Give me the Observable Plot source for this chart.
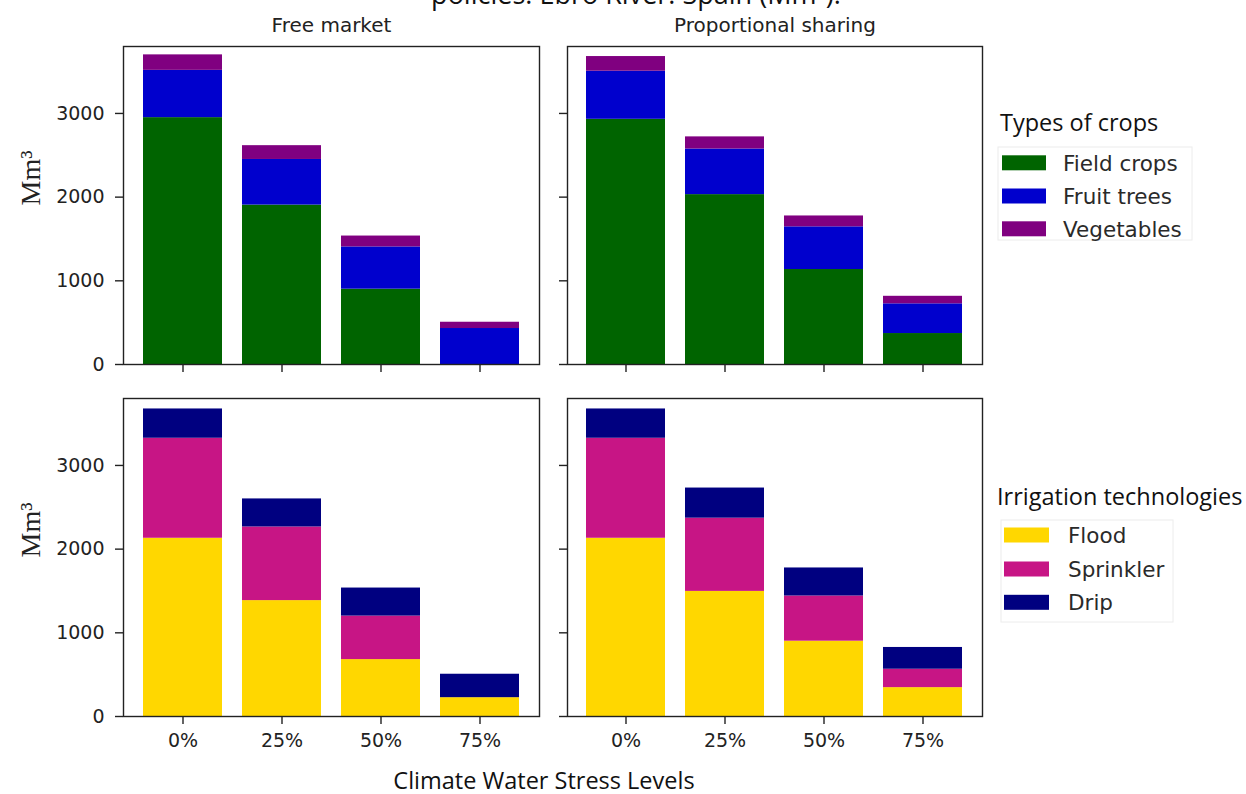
<!DOCTYPE html>
<html>
<head>
<meta charset="utf-8">
<script src="https://cdn.jsdelivr.net/npm/d3@7"></script>
<script src="https://cdn.jsdelivr.net/npm/@observablehq/plot@0.6"></script>
<style>
  html, body { margin: 0; padding: 0; background: #fff; }
  #chart { position: relative; width: 1246px; height: 794px; overflow: hidden; background: #fff; }
  .panel { position: absolute; }
  .panel svg { display: block; }
  .panel g[aria-label="x-axis tick"] path,
  .panel g[aria-label="y-axis tick"] path { stroke-width: 1.4; }
</style>
</head>
<body>
<div id="chart"></div>
<script>
// Climate water stress scenarios (x axis)
const levels = ["0%", "25%", "50%", "75%"];
const policies = ["Free market", "Proportional sharing"];

// Crop types and their colours
const cropTypes = ["Field crops", "Fruit trees", "Vegetables"];
const cropColors = ["#006400", "#0000cd", "#800080"];

// Irrigation technologies and their colours
const irrigationTypes = ["Flood", "Sprinkler", "Drip"];
const irrigationColors = ["#ffd700", "#c71585", "#000080"];

// Water use by crop type, free market (Mm³)
const freeMarketField = [2950, 1905, 900, 0];
const freeMarketFruit = [565, 545, 505, 430];
const freeMarketVegetables = [185, 165, 130, 75];

// Water use by crop type, proportional sharing (Mm³)
const sharingField = [2930, 2030, 1135, 370];
const sharingFruit = [575, 545, 510, 355];
const sharingVegetables = [175, 145, 130, 90];

// Water use by irrigation technology, free market (Mm³)
const freeMarketFlood = [2130, 1385, 680, 225];
const freeMarketSprinkler = [1195, 880, 520, 0];
const freeMarketDrip = [350, 335, 335, 280];

// Water use by irrigation technology, proportional sharing (Mm³)
const sharingFlood = [2130, 1495, 900, 345];
const sharingSprinkler = [1195, 875, 540, 220];
const sharingDrip = [350, 360, 335, 260];

const yTicks = [0, 1000, 2000, 3000];
const yMax = 3800;

function toRows(types, series) {
  const rows = [];
  levels.forEach((level, i) => {
    types.forEach((type, k) => rows.push({level, type, value: series[k][i]}));
  });
  return rows;
}

function panel(opts) {
  const {types, colors, series, title, showY, showX, left, top, width, height,
         marginLeft, marginRight, marginTop, marginBottom} = opts;
  const marks = [
    Plot.barY(toRows(types, series), {x: "level", y: "value", fill: "type"}),
    Plot.frame({stroke: "#222", strokeWidth: 1.4})
  ];
  if (title) {
    marks.push(Plot.text([title], {
      frameAnchor: "top", dy: -21, lineAnchor: "middle",
      fontSize: 20, fill: "#222"
    }));
  }
  if (showY) {
    marks.push(Plot.text(["Mm³"], {
      frameAnchor: "left", dx: -92, rotate: -90, lineAnchor: "middle",
      fontSize: 28, fontFamily: "Liberation Serif, serif", fill: "#222"
    }));
  }
  const svg = Plot.plot({
    width, height, marginLeft, marginRight, marginTop, marginBottom,
    style: {fontFamily: "DejaVu Sans, sans-serif", fontSize: "19px", color: "#222", background: "transparent", overflow: "visible"},
    x: {
      domain: levels, paddingInner: 0.2, paddingOuter: 0.19,
      tickSize: 8, tickPadding: 9, label: null,
      tickFormat: showX ? (d => d) : (() => "")
    },
    y: {
      domain: [0, yMax], ticks: yTicks, tickSize: 8, tickPadding: 11, label: null,
      tickFormat: showY ? (d => String(d)) : (() => "")
    },
    color: {domain: types, range: colors},
    marks
  });
  const div = document.createElement("div");
  div.className = "panel";
  div.style.left = left + "px";
  div.style.top = top + "px";
  div.style.width = width + "px";
  div.style.height = height + "px";
  div.appendChild(svg);
  document.getElementById("chart").appendChild(div);
}

const topRow = {top: 0, height: 385, marginTop: 46, marginBottom: 21};
const bottomRow = {top: 385, height: 409, marginTop: 13, marginBottom: 78};
const leftCol = {left: 0, width: 553, marginLeft: 123, marginRight: 14};
const rightCol = {left: 553, width: 439, marginLeft: 14, marginRight: 10};

panel({...topRow, ...leftCol, types: cropTypes, colors: cropColors,
  series: [freeMarketField, freeMarketFruit, freeMarketVegetables],
  title: policies[0], showY: true, showX: false});
panel({...topRow, ...rightCol, types: cropTypes, colors: cropColors,
  series: [sharingField, sharingFruit, sharingVegetables],
  title: policies[1], showY: false, showX: false});
panel({...bottomRow, ...leftCol, types: irrigationTypes, colors: irrigationColors,
  series: [freeMarketFlood, freeMarketSprinkler, freeMarketDrip],
  title: null, showY: true, showX: true});
panel({...bottomRow, ...rightCol, types: irrigationTypes, colors: irrigationColors,
  series: [sharingFlood, sharingSprinkler, sharingDrip],
  title: null, showY: false, showX: true});

// Shared titles and legends
const overlay = d3.select("#chart").append("svg")
  .attr("width", 1246).attr("height", 794)
  .style("position", "absolute").style("left", "0px").style("top", "0px")
  .style("pointer-events", "none");

const headFont = "'Open Sans', sans-serif";

overlay.append("text")
  .attr("x", 636).attr("y", 4).attr("text-anchor", "middle")
  .attr("font-family", headFont).attr("font-size", 27).attr("fill", "#111")
  .text("policies. Ebro River. Spain (Mm³).");

overlay.append("text")
  .attr("x", 544).attr("y", 789).attr("text-anchor", "middle")
  .attr("font-family", headFont).attr("font-size", 23.5).attr("fill", "#111")
  .text("Climate Water Stress Levels");

function legend({title, titleX, titleY, box, swatchX, swatchW, textX, rows, types, colors}) {
  overlay.append("text")
    .attr("x", titleX).attr("y", titleY)
    .attr("font-family", headFont).attr("font-size", 23.5).attr("fill", "#111")
    .text(title);
  overlay.append("rect")
    .attr("x", box[0]).attr("y", box[1]).attr("width", box[2]).attr("height", box[3])
    .attr("fill", "none").attr("stroke", "#ececec").attr("stroke-width", 1);
  types.forEach((t, i) => {
    overlay.append("rect")
      .attr("x", swatchX).attr("y", rows[i] - 7.5)
      .attr("width", swatchW).attr("height", 15)
      .attr("fill", colors[i]);
    overlay.append("text")
      .attr("x", textX).attr("y", rows[i] + 7.8)
      .attr("font-family", "'DejaVu Sans', sans-serif").attr("font-size", 21.5)
      .attr("fill", "#2a2a2a")
      .text(t);
  });
}

legend({title: "Types of crops", titleX: 1000, titleY: 131,
  box: [998, 147, 194, 93], swatchX: 1002, swatchW: 44, textX: 1063,
  rows: [162.8, 196, 228.8], types: cropTypes, colors: cropColors});

legend({title: "Irrigation technologies", titleX: 997, titleY: 505,
  box: [1001, 520, 172, 102], swatchX: 1004, swatchW: 45, textX: 1068,
  rows: [535, 569, 602.3], types: irrigationTypes, colors: irrigationColors});
</script>
</body>
</html>
